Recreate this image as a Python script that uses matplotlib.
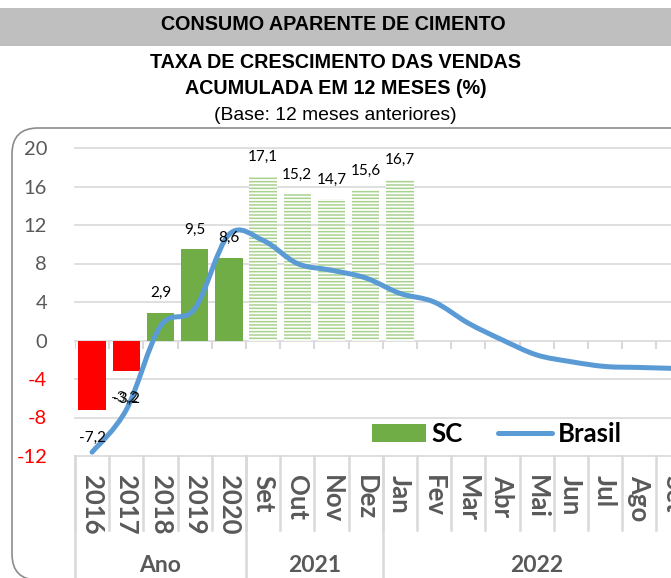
import matplotlib
matplotlib.use("Agg")
import matplotlib.pyplot as plt
from matplotlib import font_manager
from matplotlib.patches import FancyBboxPatch, Patch, Rectangle, PathPatch
from matplotlib.lines import Line2D
from matplotlib.path import Path
import matplotlib.transforms as mtransforms


categories = ["2016", "2017", "2018", "2019", "2020",
              "Set", "Out", "Nov", "Dez",
              "Jan", "Fev", "Mar", "Abr", "Mai", "Jun", "Jul", "Ago", "Set"]
groups = ["Ano", "2021", "2022"]
group_sizes = [5, 4, 9]
sc_values = [-7.2, -3.2, 2.9, 9.5, 8.6, 17.1, 15.2, 14.7, 15.6, 16.7]
brasil_values = [-11.6, -7.2, 1.5, 3.3, 11.0, 10.4, 8.0, 7.3, 6.5, 4.9,
                 4.0, 1.8, 0.05, -1.5, -2.2, -2.7, -2.8, -2.9]
yticks = [-12, -8, -4, 0, 4, 8, 12, 16, 20]

GREEN = "#70AD47"
LIGHT_GREEN = "#A9D18E"
RED = "#FF0000"
BLUE = "#5B9BD5"
GRID = "#D9D9D9"
TEXT = "#595959"

names = {f.name for f in font_manager.fontManager.ttflist}
NARROW = "Liberation Sans Narrow" if "Liberation Sans Narrow" in names else "Liberation Sans"
TITLE_SIZE = 17 if NARROW == "Liberation Sans Narrow" else 14.2
BODY = "Lato"


def smooth_path(xs, ys):
    # bezier through the points, excel-like smoothed line
    pts = list(zip(xs, ys))
    verts = [pts[0]]
    codes = [Path.MOVETO]
    n = len(pts)
    for i in range(n - 1):
        p0 = pts[i - 1] if i > 0 else pts[i]
        p1 = pts[i]
        p2 = pts[i + 1]
        p3 = pts[i + 2] if i + 2 < n else pts[i + 1]
        c1 = (p1[0] + (p2[0] - p0[0]) / 6, p1[1] + (p2[1] - p0[1]) / 6)
        c2 = (p2[0] - (p3[0] - p1[0]) / 6, p2[1] - (p3[1] - p1[1]) / 6)
        verts += [c1, c2, p2]
        codes += [Path.CURVE4] * 3
    return Path(verts, codes)


def main():
    plt.rcParams["hatch.linewidth"] = 1.1
    W, H = 671, 578
    fig = plt.figure(figsize=(W / 100, H / 100), dpi=100)

    # chart frame and title band
    frame = FancyBboxPatch((12, -2), 720, 578 - 128 + 2,
                           boxstyle="round,pad=0,rounding_size=26",
                           transform=mtransforms.IdentityTransform(),
                           facecolor="none", edgecolor="#8C8C8C", linewidth=1.2,
                           zorder=-1)
    fig.patches.append(frame)
    fig.patches.append(Rectangle((0, 1 - 46 / H), 1, 38 / H, transform=fig.transFigure,
                                 facecolor="#BFBFBF", edgecolor="none", zorder=-1))
    fig.text(0.497, 1 - 24 / H, "CONSUMO APARENTE DE CIMENTO", ha="center", va="center",
             family=NARROW, weight="bold", fontsize=TITLE_SIZE)
    fig.text(0.5, 1 - 62 / H, "TAXA DE CRESCIMENTO DAS VENDAS", ha="center", va="center",
             family=NARROW, weight="bold", fontsize=TITLE_SIZE)
    fig.text(0.5, 1 - 88 / H, "ACUMULADA EM 12 MESES (%)", ha="center", va="center",
             family=NARROW, weight="bold", fontsize=TITLE_SIZE)
    fig.text(0.5, 1 - 116 / H, "(Base: 12 meses anteriores)", ha="center", va="center",
             family=NARROW, fontsize=TITLE_SIZE - 0.3)

    n = len(categories)
    cw = 34.2
    ax = fig.add_axes([75 / W, 122 / H, n * cw / W, 308 / H])
    ax.set_facecolor("none")
    ax.set_xlim(-0.5, n - 0.5)
    ax.set_ylim(-12, 20)
    for s in ax.spines.values():
        s.set_visible(False)

    for y in yticks:
        ax.axhline(y, color=GRID, linewidth=1.2, zorder=0, clip_on=False)
    bounds = [i - 0.5 for i in range(n + 1)]
    ax.vlines(bounds, -0.9, 0, color=GRID, linewidth=1.5, zorder=0)

    ax.set_xticks([])
    ax.set_yticks(yticks)
    ax.set_yticklabels([str(v) for v in yticks], family=BODY, fontsize=14.5)
    for lab, v in zip(ax.get_yticklabels(), yticks):
        lab.set_color(RED if v < 0 else TEXT)
    ax.tick_params(axis="y", length=0, pad=20)

    # bars
    colors = [RED if v < 0 else GREEN for v in sc_values]
    for i, v in enumerate(sc_values):
        if i < 5:
            ax.bar(i, v, width=0.8, color=colors[i], zorder=2)
        else:
            ax.bar(i, v, width=0.8, facecolor="white", edgecolor=LIGHT_GREEN,
                   linewidth=0, hatch="-----", zorder=2)
        label = f"{v:.1f}".replace(".", ",")
        if v >= 0:
            ax.annotate(label, (i, v), xytext=(0, 9), textcoords="offset points",
                        ha="center", va="bottom", family=BODY, fontsize=11, zorder=4)
        else:
            ax.annotate(label, (i, v), xytext=(0, -15), textcoords="offset points",
                        ha="center", va="top", family=BODY, fontsize=11, zorder=4)
            if i == 1:
                ax.annotate(label, (i, v), xytext=(-1.5, -14), textcoords="offset points",
                            ha="center", va="top", family=BODY, fontsize=11, zorder=4,
                            alpha=0.8)

    # smoothed Brasil line
    line_path = smooth_path(list(range(len(brasil_values))), brasil_values)
    ax.add_patch(PathPatch(line_path, facecolor="none", edgecolor=BLUE, linewidth=3.6,
                           capstyle="round", zorder=3))

    # category axis below the plot
    xt = ax.get_xaxis_transform()
    for b in bounds:
        ax.plot([b, b], [0, -74 / 308], transform=xt, color=GRID, linewidth=1.8,
                clip_on=False)
    edges = [-0.5]
    for size in group_sizes:
        edges.append(edges[-1] + size)
    for b in edges:
        ax.plot([b, b], [0, -0.45], transform=xt, color=GRID, linewidth=1.8,
                clip_on=False)
    label_tf = mtransforms.offset_copy(xt, fig=fig, x=0, y=-13.5, units="points")
    for i, cat in enumerate(categories):
        ax.text(i, 0, cat, transform=label_tf, rotation=270, ha="center", va="top",
                family=BODY, weight="bold", fontsize=18.5, color=TEXT)
    group_tf = mtransforms.offset_copy(xt, fig=fig, x=0, y=-78.5, units="points")
    for g, a, b in zip(groups, edges[:-1], edges[1:]):
        ax.text((a + b) / 2, 0, g, transform=group_tf, ha="center", va="center",
                family=BODY, weight="bold", fontsize=16.5, color=TEXT)

    handles = [Patch(facecolor=GREEN, edgecolor="none"),
               Line2D([], [], color=BLUE, linewidth=3.6, solid_capstyle="round")]
    ax.legend(handles, ["SC", "Brasil"], loc="center", bbox_to_anchor=(0.685, 0.071),
              ncol=2, frameon=False, handlelength=2.1, handleheight=0.72,
              handletextpad=0.2, columnspacing=1.4,
              prop={"family": BODY, "weight": "bold", "size": 18.5})

    fig.savefig("out.png", dpi=100)
    plt.close(fig)


if __name__ == "__main__":
    main()
